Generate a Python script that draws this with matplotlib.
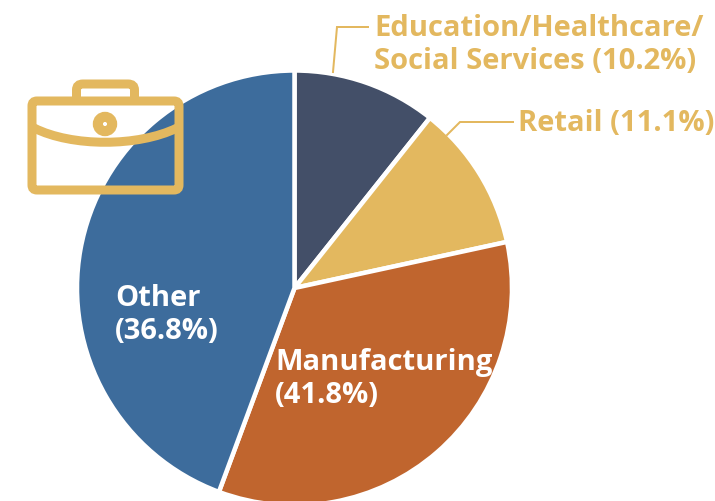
import matplotlib
matplotlib.use("Agg")
import matplotlib.pyplot as plt
from matplotlib.patches import Circle, FancyBboxPatch, PathPatch
from matplotlib.path import Path

W, H = 715, 501

# slice sizes as drawn in the picture (they do not follow the printed percentages)
slices = [10.7, 10.9, 34.05, 44.35]
colors = ["#434F68", "#E3B85F", "#C0652E", "#3D6C9C"]
gold = "#E3B85F"

edu_lines = ["Education/Healthcare/", "Social Services (10.2%)"]
retail_lines = ["Retail (11.1%)"]
manu_lines = ["Manufacturing", "(41.8%)"]
other_lines = ["Other", "(36.8%)"]

px = 72.0 / 100  # line widths are given in pixels


def Y(y):
    return H - y  # picture rows to data coordinates


def label(x, y, lines, color):
    for i, line in enumerate(lines):
        ax.text(x, Y(y + i * 33), line, color=color, va="baseline", ha="left",
                family="Open Sans", weight="bold", size=21)


fig = plt.figure(figsize=(W / 100, H / 100), dpi=100)
ax = fig.add_axes([0, 0, 1, 1])

ax.pie(slices, colors=colors, startangle=90, counterclock=False,
       center=(294.5, Y(288)), radius=217.5, frame=True,
       wedgeprops={"edgecolor": "white", "linewidth": 4.5 * px})
ax.set_xlim(0, W)
ax.set_ylim(0, H)
ax.set_aspect("equal")
ax.axis("off")

label(374, 36, edu_lines, gold)
label(518, 131, retail_lines, gold)
label(275, 370, manu_lines, "white")
label(115, 306, other_lines, "white")

# leader lines
ax.plot([333, 337, 368], [Y(72), Y(27), Y(27)], color=gold, lw=2 * px, solid_joinstyle="miter")
ax.plot([447, 460, 513], [Y(135), Y(122), Y(122)], color=gold, lw=2 * px, solid_joinstyle="miter")

# briefcase icon
stroke = 9 * px
ax.add_patch(FancyBboxPatch((37, Y(185)), 137, 79, boxstyle="round,pad=5,rounding_size=5",
                            fc="none", ec=gold, lw=stroke, zorder=5))
handle = Path([(76.5, Y(100)), (76.5, Y(90)), (76.5, Y(84)), (83, Y(84)),
               (128, Y(84)), (134.5, Y(84)), (134.5, Y(90)), (134.5, Y(100))],
              [Path.MOVETO, Path.LINETO, Path.CURVE3, Path.CURVE3,
               Path.LINETO, Path.CURVE3, Path.CURVE3, Path.LINETO])
ax.add_patch(PathPatch(handle, fc="none", ec=gold, lw=stroke, zorder=5))
flap = Path([(34, Y(128)), (72, Y(147)), (138, Y(147)), (177, Y(128))],
            [Path.MOVETO, Path.CURVE4, Path.CURVE4, Path.CURVE4])
ax.add_patch(PathPatch(flap, fc="none", ec=gold, lw=stroke, zorder=5))
ax.add_patch(Circle((105, Y(124)), 7.2, fc="none", ec=gold, lw=10 * px, zorder=5))

fig.savefig("out.png", dpi=100)
